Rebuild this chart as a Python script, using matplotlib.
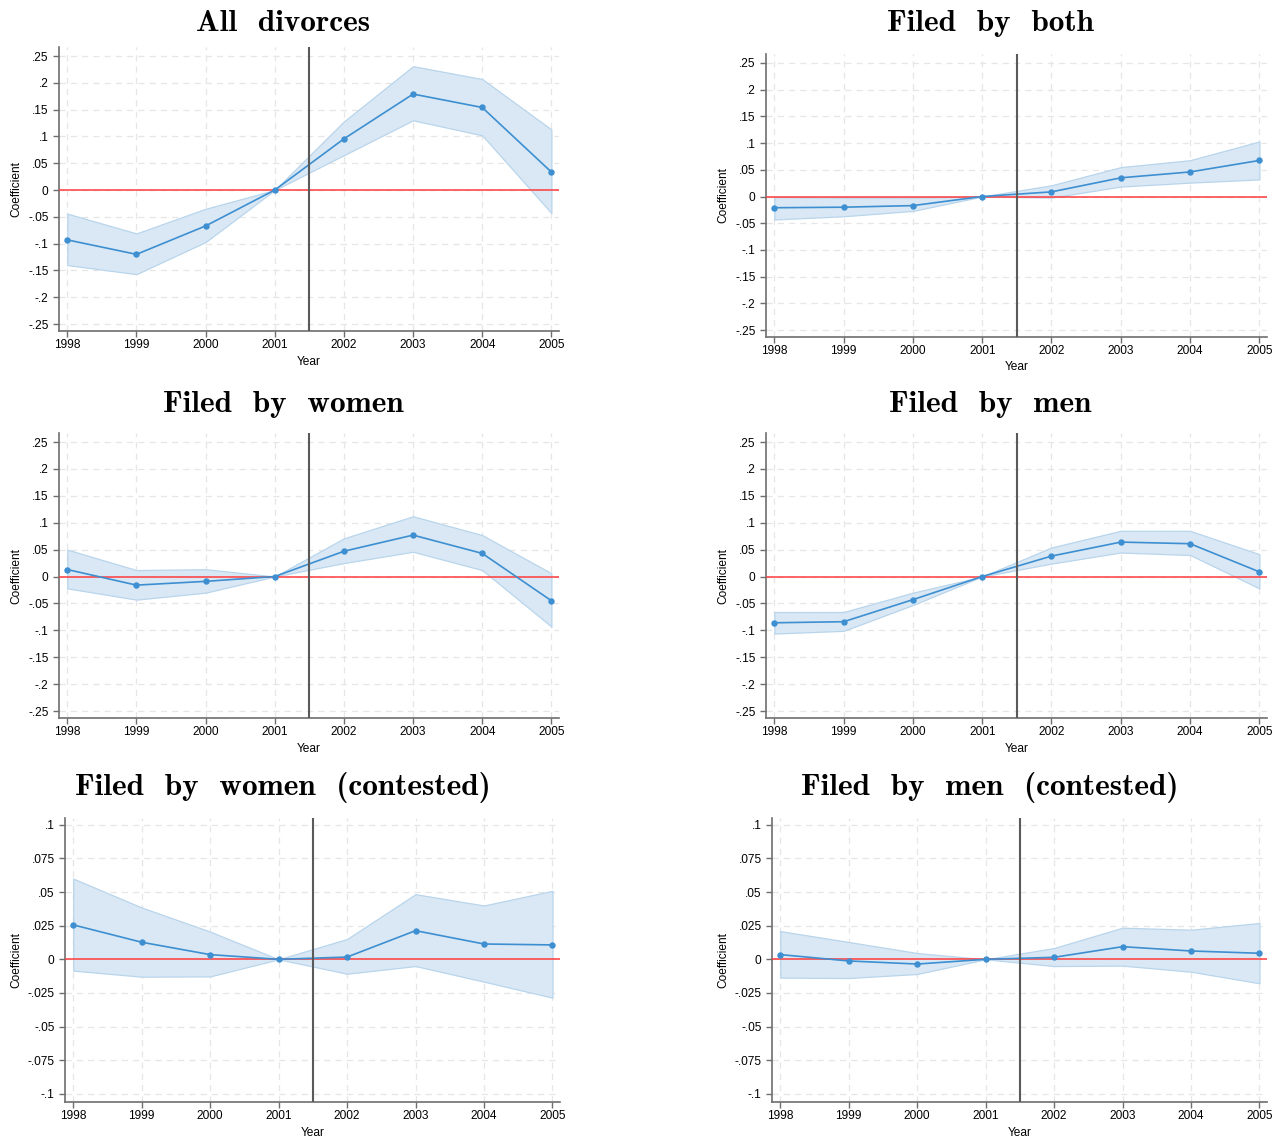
import numpy as np
import matplotlib
matplotlib.use("Agg")
import matplotlib.pyplot as plt
from matplotlib.ticker import FuncFormatter

# event-study coefficients with 95% bands, 2001 is the reference year
years = [1998, 1999, 2000, 2001, 2002, 2003, 2004, 2005]

all_coef = [-0.093, -0.120, -0.067, 0.0, 0.0955, 0.179, 0.154, 0.0335]
all_hi = [-0.044, -0.081, -0.035, 0.0, 0.128, 0.231, 0.207, 0.113]
all_lo = [-0.140, -0.157, -0.097, 0.0, 0.065, 0.130, 0.102, -0.043]

both_coef = [-0.021, -0.020, -0.017, 0.0, 0.0087, 0.035, 0.046, 0.0675]
both_hi = [-0.001, -0.002, -0.002, 0.0, 0.021, 0.055, 0.068, 0.103]
both_lo = [-0.043, -0.037, -0.027, 0.0, -0.002, 0.0186, 0.026, 0.032]

women_coef = [0.013, -0.016, -0.009, 0.0, 0.047, 0.077, 0.043, -0.045]
women_hi = [0.050, 0.012, 0.0136, 0.0, 0.071, 0.112, 0.077, 0.006]
women_lo = [-0.022, -0.043, -0.030, 0.0, 0.025, 0.046, 0.012, -0.093]

men_coef = [-0.086, -0.084, -0.043, 0.0, 0.038, 0.064, 0.061, 0.0087]
men_hi = [-0.066, -0.066, -0.030, 0.0, 0.054, 0.085, 0.085, 0.0415]
men_lo = [-0.106, -0.101, -0.053, 0.0, 0.024, 0.0446, 0.040, -0.022]

women_ct_coef = [0.0256, 0.0127, 0.0035, 0.0, 0.0017, 0.0213, 0.0114, 0.0107]
women_ct_hi = [0.060, 0.0385, 0.0206, 0.0, 0.0151, 0.0484, 0.040, 0.0509]
women_ct_lo = [-0.0084, -0.0129, -0.0127, 0.0, -0.0107, -0.005, -0.0166, -0.0285]

men_ct_coef = [0.0035, -0.0012, -0.0035, 0.0, 0.0015, 0.0094, 0.0062, 0.0045]
men_ct_hi = [0.021, 0.0129, 0.0047, 0.0, 0.0084, 0.0235, 0.022, 0.027]
men_ct_lo = [-0.0136, -0.0139, -0.0109, 0.0, -0.005, -0.0047, -0.0092, -0.0178]

titles = ["All divorces", "Filed by both", "Filed by women", "Filed by men",
          "Filed by women (contested)", "Filed by men (contested)"]

W, H = 1281, 1138
LINE = "#3d8fd1"
FILL = "#d9e8f4"
EDGE = "#b9d5ec"
AXC = "#6e6e6e"

wide_ticks = [-0.25, -0.2, -0.15, -0.1, -0.05, 0, 0.05, 0.1, 0.15, 0.2, 0.25]
narrow_ticks = [-0.1, -0.075, -0.05, -0.025, 0, 0.025, 0.05, 0.075, 0.1]


def stata_fmt(v, pos=None):
    s = f"{v:g}"
    return s.replace("0.", ".")


def panel(fig, box, coef, lo, hi, yticks, ylim):
    left, top, right, bottom = box
    ax = fig.add_axes([left / W, 1 - bottom / H, (right - left) / W, (bottom - top) / H])
    ax.set_xlim(1997.88, 2005.11)
    ax.set_ylim(*ylim)
    ax.set_xticks(years)
    ax.set_yticks(yticks)
    ax.yaxis.set_major_formatter(FuncFormatter(stata_fmt))
    ax.grid(True, color="#e6e6e6", linestyle=(0, (5, 4)), linewidth=0.9)
    ax.set_axisbelow(True)
    for side in ["top", "right"]:
        ax.spines[side].set_visible(False)
    for side in ["left", "bottom"]:
        ax.spines[side].set_color(AXC)
        ax.spines[side].set_linewidth(1.2)
    ax.tick_params(colors=AXC, labelcolor="black", labelsize=8.6, length=4, width=1)
    ax.tick_params(axis="x", pad=1.5)

    ax.fill_between(years, lo, hi, color=FILL, edgecolor=EDGE, linewidth=0.9, zorder=2)
    ax.axhline(0, color="#ff3b3b", linewidth=1.1, zorder=3)
    ax.plot(years, coef, color=LINE, linewidth=1.2, marker="o", markersize=3.6, zorder=4)
    ax.axvline(2001.5, color="#5a5a5a", linewidth=1.5, zorder=5)

    ax.set_xlabel("Year", fontsize=8.6, labelpad=3.5)
    ax.set_ylabel("Coefficient", fontsize=8.6, labelpad=4)
    return ax


plt.rcParams["font.family"] = ["Liberation Sans", "DejaVu Sans"]
fig = plt.figure(figsize=(W / 100, H / 100), dpi=100)

wide = (-0.263, 0.2668)
narrow = (-0.106, 0.105)
panel(fig, (59, 47, 559, 331), all_coef, all_lo, all_hi, wide_ticks, wide)
panel(fig, (766, 54, 1267, 337), both_coef, both_lo, both_hi, wide_ticks, wide)
panel(fig, (59, 433, 559, 718), women_coef, women_lo, women_hi, wide_ticks, wide)
panel(fig, (766, 433, 1267, 718), men_coef, men_lo, men_hi, wide_ticks, wide)
panel(fig, (65, 818, 560, 1102), women_ct_coef, women_ct_lo, women_ct_hi, narrow_ticks, narrow)
panel(fig, (772, 818, 1267, 1102), men_ct_coef, men_ct_lo, men_ct_hi, narrow_ticks, narrow)

# panel headings in a LaTeX-style bold serif
title_pos = [(283, 31), (990, 31), (283, 412), (990, 412), (283, 795), (990, 795)]
for t, (x, y) in zip(titles, title_pos):
    fig.text(x / W, 1 - y / H, t.replace(" ", "  "), ha="center", va="baseline",
             fontsize=22.5, family=["cmb10", "DejaVu Serif"])

fig.savefig("out.png", dpi=100, facecolor="white")
